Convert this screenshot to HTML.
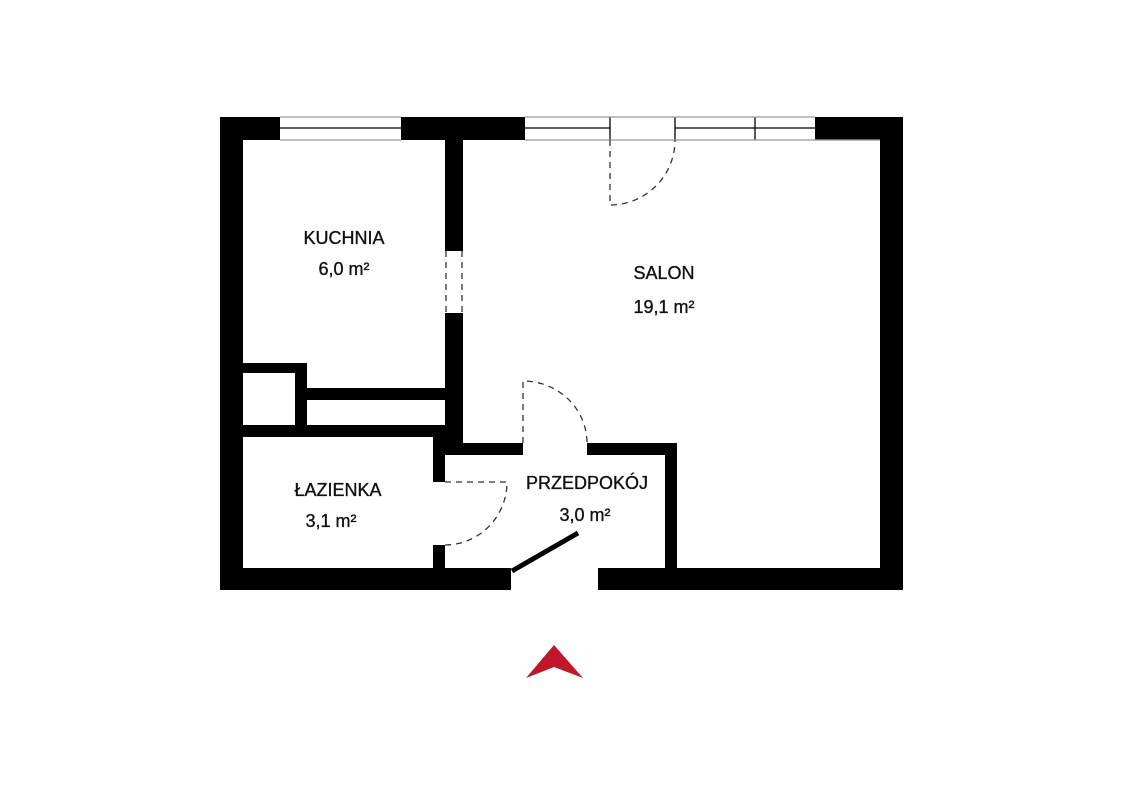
<!DOCTYPE html>
<html><head><meta charset="utf-8"><style>
html,body{margin:0;padding:0;background:#fff;}
svg{display:block;}
text{font-family:"Liberation Sans",sans-serif;font-size:18px;fill:#111;stroke:#111;stroke-width:0.35;text-anchor:middle;}
</style></head><body>
<svg width="1125" height="792" viewBox="0 0 1125 792" xmlns="http://www.w3.org/2000/svg">
<g fill="#000">
<rect x="220" y="117" width="60" height="23"/>
<rect x="401" y="117" width="124" height="23"/>
<rect x="815" y="117" width="88" height="23"/>
<rect x="220" y="117" width="23" height="473"/>
<rect x="880" y="117" width="23" height="473"/>
<rect x="220" y="568" width="291" height="22"/>
<rect x="598" y="568" width="305" height="22"/>
<rect x="445" y="140" width="18" height="111"/>
<rect x="445" y="313" width="18" height="142"/>
<rect x="243" y="363" width="64" height="10"/>
<rect x="295" y="363" width="12" height="74"/>
<rect x="295" y="388" width="150" height="12"/>
<rect x="243" y="425" width="220" height="12"/>
<rect x="433" y="437" width="12" height="45"/>
<rect x="433" y="545" width="12" height="23"/>
<rect x="433" y="443" width="90" height="12"/>
<rect x="587" y="443" width="90" height="12"/>
<rect x="665" y="443" width="12" height="125"/>
</g>
<g stroke="#000" stroke-width="1.3" fill="none">
<line x1="280" y1="128" x2="401" y2="128"/>
<line x1="525" y1="128" x2="610" y2="128"/>
<line x1="675" y1="128" x2="815" y2="128"/>
<line x1="610" y1="117" x2="610" y2="140"/>
<line x1="675" y1="117" x2="675" y2="140"/>
<line x1="755" y1="117" x2="755" y2="140"/>
</g>
<g stroke="#999" stroke-width="1.3" fill="none">
<line x1="280" y1="117" x2="401" y2="117"/>
<line x1="280" y1="140" x2="401" y2="140"/>
<line x1="525" y1="117" x2="815" y2="117"/>
<line x1="525" y1="140" x2="880" y2="140"/>
</g>
<g stroke="#333" stroke-width="1.3" fill="none" stroke-dasharray="6,5">
<path d="M610 140 L610 205 A65 65 0 0 0 675 140"/>
<path d="M523 443 L523 381 A64 62 0 0 1 587 443"/>
<path d="M445 482 L507 482 A62 63 0 0 1 445 545"/>
<line x1="446" y1="251" x2="446" y2="313"/>
<line x1="462" y1="251" x2="462" y2="313"/>
</g>
<line x1="512" y1="571" x2="578" y2="533" stroke="#000" stroke-width="5"/>
<polygon points="526,678 554,645 583,678 554,667" fill="#c0182a"/>
<text x="344" y="244">KUCHNIA</text>
<text x="344" y="275">6,0 m²</text>
<text x="664" y="279">SALON</text>
<text x="664" y="313">19,1 m²</text>
<text x="338" y="496">ŁAZIENKA</text>
<text x="331" y="527">3,1 m²</text>
<text x="587" y="489">PRZEDPOKÓJ</text>
<text x="585" y="521">3,0 m²</text>
</svg>
</body></html>
